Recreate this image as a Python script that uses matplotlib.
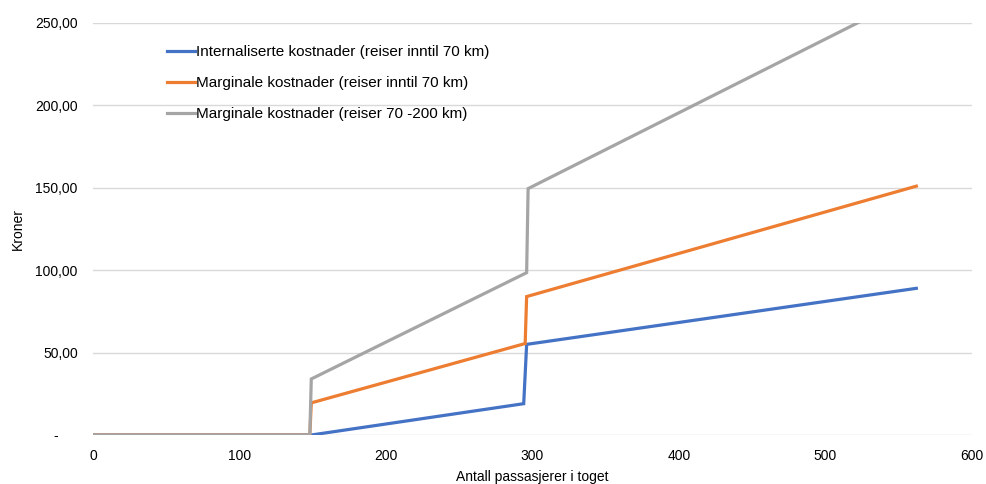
import matplotlib.pyplot as plt
from matplotlib.ticker import FuncFormatter

plt.rcParams['font.family'] = ['Liberation Sans', 'DejaVu Sans']

# passengers on the train
x_int = [0, 148, 149, 294, 296, 562]
y_int = [0, 0, 0, 19, 55, 89]

x_marg70 = [0, 148, 149, 295, 296, 562]
y_marg70 = [0, 0, 19.5, 55.5, 84, 151]

x_marg200 = [0, 148, 149, 296, 297, 562]
y_marg200 = [0, 0, 34, 98.5, 149.5, 268]

labels = ['Internaliserte kostnader (reiser inntil 70 km)',
          'Marginale kostnader (reiser inntil 70 km)',
          'Marginale kostnader (reiser 70 -200 km)']
colors = ['#4472C4', '#ED7D31', '#A5A5A5']

fig = plt.figure(figsize=(9.86, 4.84), dpi=100)
ax = fig.add_axes([93/986, 49/484, 879/986, 412/484])

ax.plot(x_int, y_int, color=colors[0], lw=2.3, label=labels[0], solid_joinstyle='miter')
ax.plot(x_marg70, y_marg70, color=colors[1], lw=2.3, label=labels[1], solid_joinstyle='miter')
ax.plot(x_marg200, y_marg200, color=colors[2], lw=2.3, label=labels[2], solid_joinstyle='miter')

ax.set_xlim(0, 600)
ax.set_ylim(0, 250)
ax.set_xticks(range(0, 601, 100))
ax.set_yticks(range(0, 251, 50))

def kr(v, pos):
    if v == 0:
        return '-     '
    return f'{v:.2f}'.replace('.', ',')

ax.yaxis.set_major_formatter(FuncFormatter(kr))
ax.grid(axis='y', color='#D9D9D9', lw=1)
ax.set_axisbelow(True)
for s in ax.spines.values():
    s.set_visible(False)
ax.tick_params(length=0, labelsize=10, colors='#000000')
ax.tick_params(axis='x', pad=10)
ax.tick_params(axis='y', pad=11)

ax.set_xlabel('Antall passasjerer i toget', fontsize=10, va='center')
ax.xaxis.set_label_coords(0.5, -0.103)
ax.set_ylabel('Kroner', fontsize=10, va='center')
ax.yaxis.set_label_coords(-0.085, 0.5)

ax.legend(loc='upper left', bbox_to_anchor=(0.069, 0.98), frameon=False,
          fontsize=11, handlelength=1.8, handletextpad=0.1, labelspacing=1.12)

fig.savefig('out.png', dpi=100)
